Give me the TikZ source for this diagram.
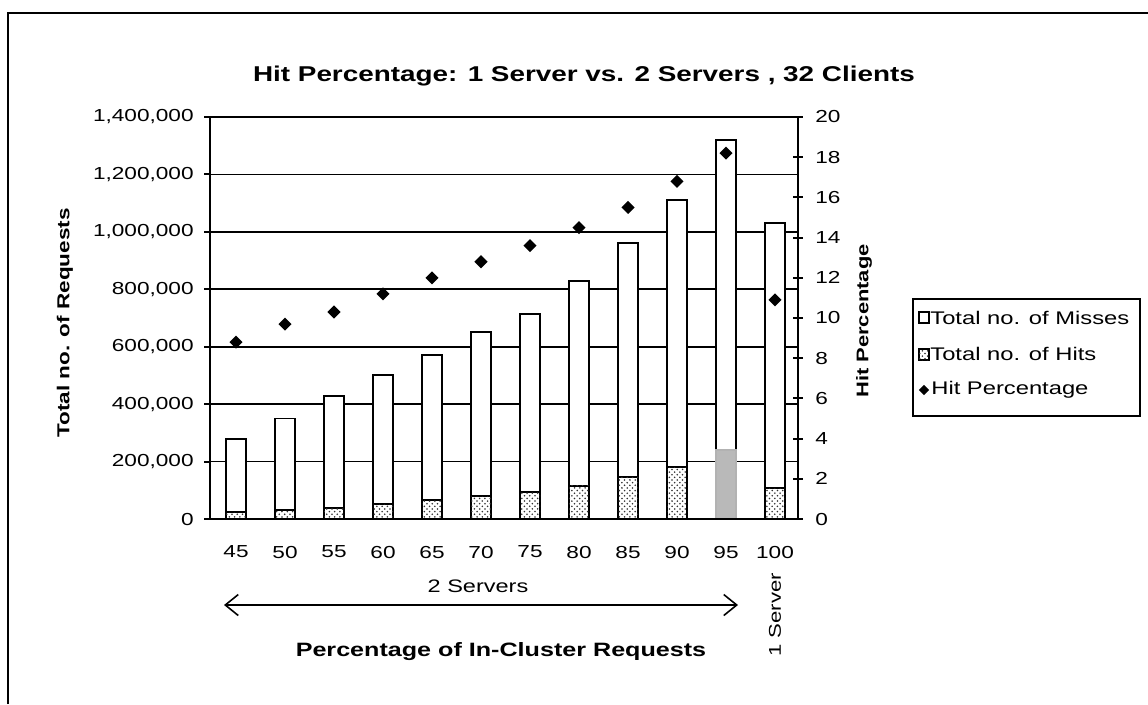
\documentclass[tikz,border=0pt]{standalone}
\usepackage{fontspec}
\setmainfont{Liberation Sans}[FakeStretch=1.3]
\usetikzlibrary{arrows.meta,patterns,shapes.geometric}
\newcommand\fs[1]{\fontsize{#1}{#1}\selectfont}
\begin{document}
\begin{tikzpicture}[x=0.02cm,y=-0.02cm,
  lbl/.style={inner sep=0pt, font=\fs{9.9}},
  axisline/.style={line width=1.1pt},
  gridline/.style={line width=1pt},
  barbox/.style={draw, line width=1.1pt, fill=white},
  hitbox/.style={draw, line width=1.1pt, fill=white,
    postaction={pattern=crosshatch dots, pattern color=black!80}},
  hitgray/.style={draw=gray!60, line width=1.1pt, fill=gray!55},
  hitmark/.style={diamond, fill=black, inner sep=0pt, minimum size=7.6pt},
]
\useasboundingbox (0,0) rectangle (1148,704);

% outer frame (top and left edges)
\draw[line width=0.9pt] (8,704) -- (8,13) -- (1148,13);

% title
\node[inner sep=0pt, font=\fs{12.2}\bfseries] (title) at (584,76)
  {Hit Percentage: 1 Server vs. 2 Servers , 32 Clients};

% horizontal grid lines
\foreach \v in {200,400,...,1400}
  \draw[gridline] (210,519-\v*0.28714) -- (798,519-\v*0.28714);

% bars, hit segments and hit-percentage markers
\foreach \lab/\tot/\hit/\pct/\hs [count=\i from 0] in {
   45/280/24/8.8/hitbox, 50/350/31/9.7/hitbox, 55/427/38/10.3/hitbox,
   60/500/52/11.2/hitbox, 65/570/66/12.0/hitbox, 70/650/80/12.8/hitbox,
   75/715/94/13.6/hitbox, 80/830/115/14.5/hitbox, 85/960/146/15.5/hitbox,
   90/1112/181/16.8/hitbox, 95/1320/240/18.2/hitgray, 100/1030/108/10.9/hitbox}{
  \pgfmathsetmacro\cx{236+49*\i}
  \pgfmathsetmacro\yt{519-\tot*0.28714}
  \pgfmathsetmacro\yh{519-\hit*0.28714}
  \pgfmathsetmacro\yp{519-\pct*20.1}
  \draw[barbox] (\cx-10,519) rectangle (\cx+10,\yt);
  \draw[\hs] (\cx-10,519) rectangle (\cx+10,\yh);
  \node[hitmark] (d\lab) at (\cx,\yp) {};
  \node[lbl] (x\lab) at (\cx,552) {\lab};
}

% axes
\draw[axisline] (210,117) -- (210,519) -- (798,519) -- (798,117);
\foreach \v/\t in {0/0,200/{200,000},400/{400,000},600/{600,000},800/{800,000},
                   1000/{1,000,000},1200/{1,200,000},1400/{1,400,000}}{
  \draw[axisline] (204,519-\v*0.28714) -- (210,519-\v*0.28714);
  \node[lbl, anchor=east] (yl\v) at (194,519-\v*0.28714) {\t};
}
\foreach \p in {0,2,...,20}{
  \draw[axisline] (793,519-\p*20.1) -- (803,519-\p*20.1);
  \node[lbl, anchor=west] (yr\p) at (815,519-\p*20.1) {\p};
}

% axis titles
\node[inner sep=0pt, font=\fs{9.85}\bfseries, rotate=90] (ytitle) at (65,323) {Total no. of Requests};
\node[inner sep=0pt, font=\fs{9.6}\bfseries, rotate=90] (y2title) at (864,321) {Hit Percentage};
\node[inner sep=0pt, font=\fs{11}\bfseries] (xtitle) at (501,652) {Percentage of In-Cluster Requests};

% group annotations
\node[inner sep=0pt, font=\fs{10.3}] (two) at (478,586) {2 Servers};
\coordinate (arrL) at (224,605);
\coordinate (arrR) at (738,605);
\draw[line width=0.9pt, {Straight Barb[length=0.26cm,width=0.42cm]}-{Straight Barb[length=0.26cm,width=0.42cm]}] (arrL) -- (arrR);
\node[inner sep=0pt, font=\fs{9.7}, rotate=90] (one) at (775,615) {1 Server};

% legend
\draw[line width=0.9pt] (913,299) rectangle (1140,416);
\draw[line width=1pt, fill=white] (919,312) rectangle (929,323);
\node[inner sep=0pt, font=\fs{10.4}, anchor=west] (lg1) at (930,318) {Total no. of Misses};
\draw[hitbox, line width=1pt] (919,349) rectangle (929,360);
\node[inner sep=0pt, font=\fs{10.4}, anchor=west] (lg2) at (930,354) {Total no. of Hits};
\node[hitmark, minimum size=6pt] (lgd) at (924,390) {};
\node[inner sep=0pt, font=\fs{10.4}, anchor=west] (lg3) at (931,390) {Hit Percentage};
\end{tikzpicture}
\end{document}
